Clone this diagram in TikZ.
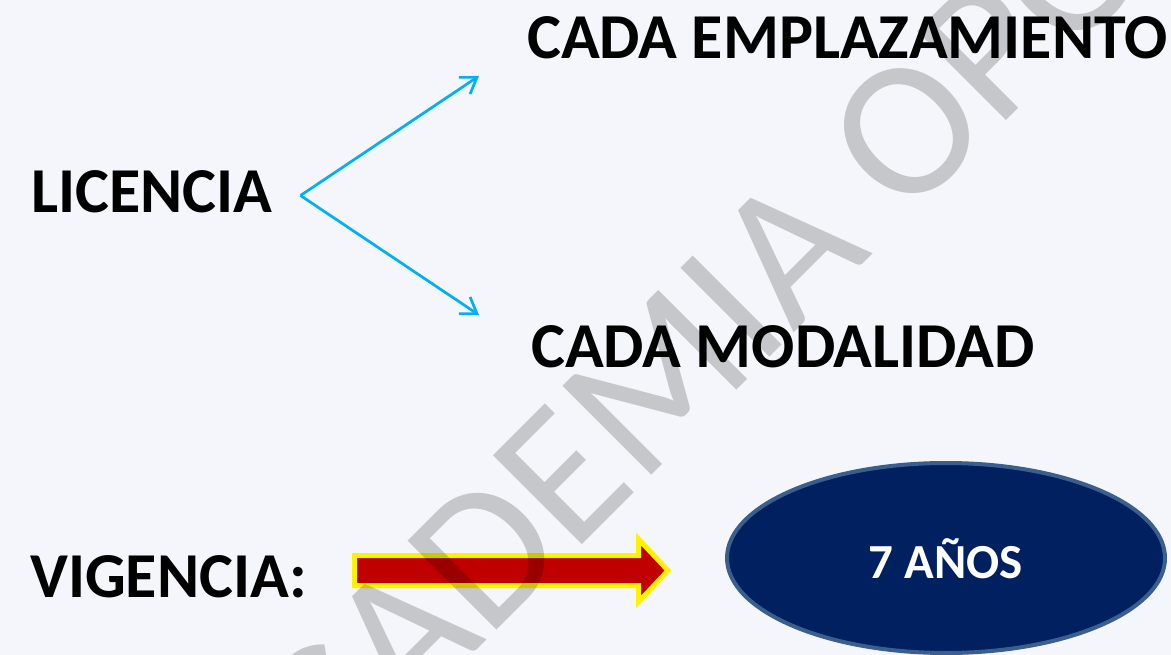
\documentclass[tikz,border=0pt]{standalone}
\usepackage{fontspec}
\setmainfont{Carlito}
\usetikzlibrary{arrows.meta,shapes.geometric}
\definecolor{bg}{HTML}{F4F6FB}
\definecolor{cyanline}{HTML}{00B0F0}
\definecolor{darkred}{HTML}{C00000}
\definecolor{navy}{HTML}{002060}
\definecolor{ovalrim}{HTML}{3A5F8E}
\begin{document}
\begin{tikzpicture}[x=1pt,y=-1pt,
  bigtext/.style={font=\fontsize{64}{64}\selectfont\bfseries, inner sep=0pt, anchor=base west},
  branch/.style={draw=cyanline, line width=2.7pt, -{Straight Barb[length=15pt,width=20pt]}},
  watermark/.style={font=\fontsize{196}{196}\selectfont, inner sep=0pt, anchor=base west, rotate=45, text=black, text opacity=0.19}]
\useasboundingbox (0,0) rectangle (1171,655);
\clip (0,0) rectangle (1171,655);
\fill[bg] (0,0) rectangle (1171,655);

\node[bigtext] (lic) at (31,213) {LICENCIA};
\node[bigtext] (emp) at (527,59) {CADA EMPLAZAMIENTO};
\node[bigtext] (mod) at (531,367) {CADA MODALIDAD};
\node[bigtext] (vig) at (30,597) {VIGENCIA:};

\coordinate (fork) at (300.5,195.5);
\coordinate (tipA) at (479,76);
\coordinate (tipB) at (479,315);
\draw[branch] (fork) -- (tipA);
\draw[branch] (fork) -- (tipB);

\node[ellipse, minimum width=438pt, minimum height=190pt, fill=navy, draw=ovalrim, line width=4pt] (oval) at (946,558) {};
\node[font=\fontsize{49}{49}\selectfont\bfseries, text=white, inner sep=0pt, anchor=base] (years) at (946,578) {7 AÑOS};

\draw[draw=yellow, fill=darkred, line width=5pt, miter limit=10]
  (354.5,555.5) -- (638.5,555.5) -- (638.5,539) -- (668,570.5) -- (638.5,602) -- (638.5,585.5) -- (354.5,585.5) -- cycle;

\node[watermark] (wm) at (254,873) {ACADEMIA OPO};
\end{tikzpicture}
\end{document}
